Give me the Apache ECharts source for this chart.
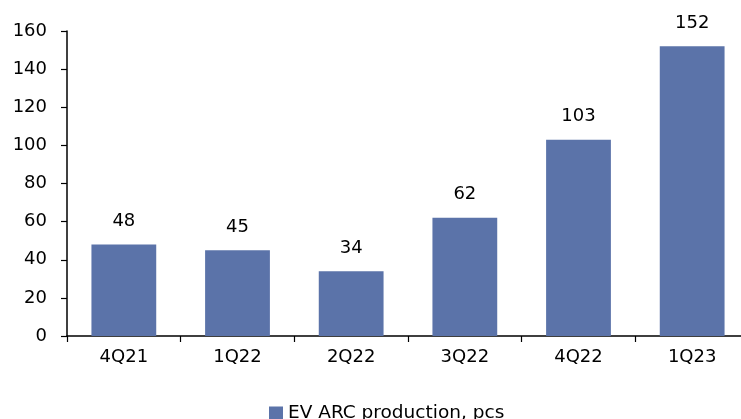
<!DOCTYPE html>
<html>
<head>
<meta charset="utf-8">
<script src="https://cdn.jsdelivr.net/npm/echarts@6/dist/echarts.min.js"></script>
<style>
  html, body { margin: 0; padding: 0; background: #fff; overflow: hidden; }
  /* canvas is a little wider than the window so the plot bleeds off the right edge */
  #chart { width: 750px; height: 419px; }
</style>
</head>
<body>
<div id="chart"></div>
<script>
// Quarterly EV ARC output
const quarters = ['4Q21', '1Q22', '2Q22', '3Q22', '4Q22', '1Q23'];
const production = [48, 45, 34, 62, 103, 152];
const seriesName = 'EV ARC production, pcs';

const FONT = 'DejaVu Sans';
const SIZE = 18;
const chart = echarts.init(document.getElementById('chart'), null, { renderer: 'canvas' });

chart.setOption({
  animation: false,
  textStyle: { fontFamily: FONT },
  grid: { left: 67, top: 31, right: 1, bottom: 83, containLabel: false },
  legend: {
    data: [seriesName],
    left: 264,
    top: 399,
    itemWidth: 14,
    itemHeight: 14,
    itemGap: 4,
    icon: 'rect',
    textStyle: { fontFamily: FONT, fontSize: 18.5, color: '#000' }
  },
  xAxis: {
    type: 'category',
    data: quarters,
    axisLine: { lineStyle: { color: '#000', width: 1.5 } },
    axisTick: { show: true, length: 6, inside: false, lineStyle: { color: '#000', width: 1.2 } },
    axisLabel: { color: '#000', fontFamily: FONT, fontSize: SIZE, margin: 12 }
  },
  yAxis: {
    type: 'value',
    min: 0,
    max: 160,
    interval: 20,
    splitLine: { show: false },
    axisLine: { show: true, lineStyle: { color: '#000', width: 1.5 } },
    axisTick: { show: true, length: 6, lineStyle: { color: '#000', width: 1.2 } },
    axisLabel: { color: '#000', fontFamily: FONT, fontSize: SIZE, margin: 20 }
  },
  series: [{
    name: seriesName,
    type: 'bar',
    data: production,
    barWidth: '57%',
    itemStyle: { color: '#5B73A9' },
    label: {
      show: true,
      position: 'top',
      distance: 14,
      color: '#000',
      fontFamily: FONT,
      fontSize: SIZE
    }
  }]
});
</script>
</body>
</html>
